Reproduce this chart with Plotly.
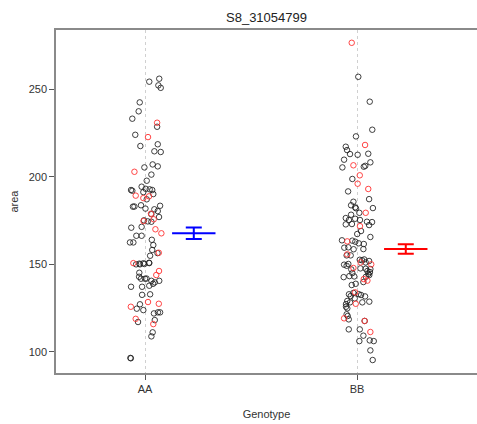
import plotly.graph_objects as go

categories = ["AA", "BB"]
title = "S8_31054799"

# AA genotype: area values, horizontal jitter, colour flag
aa_area = [254.2, 255.9, 252.1, 250.7, 242.4, 237.3, 233.1, 230.8, 228.5, 223.9,
           222.6, 218.5, 217.5, 214.5, 214.1, 205.3, 207.0, 205.9, 202.8, 201.2,
           197.7, 192.4, 192.0, 194.3, 193.1, 192.8, 192.4, 191.2, 190.1, 189.2,
           187.8, 188.8, 187.1, 182.9, 183.0, 183.7, 181.8, 181.4, 183.4, 180.4,
           178.9, 178.6, 177.0, 175.1, 174.7, 174.5, 174.3, 175.7, 171.4, 170.9,
           170.0, 167.7, 166.3, 166.3, 164.0, 162.5, 162.5, 161.0, 158.2, 156.6,
           156.4, 154.9, 150.7, 150.0, 150.4, 150.0, 150.6, 150.2, 150.9, 150.7,
           145.2, 146.2, 143.9, 142.9, 141.8, 141.8, 141.9, 140.6, 139.7, 140.6,
           137.2, 137.2, 137.8, 138.9, 132.6, 132.9, 128.5, 127.5, 127.2, 125.8,
           124.7, 123.9, 122.0, 122.6, 122.6, 118.9, 117.1, 118.2, 115.9, 111.2,
           108.9, 96.4, 96.6]
aa_jitter = [0.020, 0.067, 0.063, 0.074, -0.025, -0.030, -0.060, 0.057, 0.057, -0.046,
             0.014, 0.060, -0.022, 0.044, 0.074, -0.003, 0.036, 0.060, -0.050, 0.030,
             0.008, -0.066, -0.060, -0.016, 0.003, 0.022, 0.034, -0.008, 0.039, -0.044,
             -0.008, 0.019, 0.008, -0.057, -0.050, -0.019, 0.002, 0.044, 0.071, 0.060,
             0.028, 0.030, 0.066, -0.005, -0.007, 0.013, 0.030, 0.041, -0.016, -0.065,
             0.049, 0.077, -0.041, -0.016, 0.032, -0.071, -0.055, 0.039, 0.034, 0.065,
             0.059, 0.024, -0.055, -0.042, -0.027, -0.024, -0.008, -0.003, 0.019, 0.020,
             -0.027, 0.066, 0.053, -0.028, -0.019, 0.000, 0.007, 0.030, 0.046, 0.067,
             -0.066, -0.014, 0.020, 0.038, -0.014, 0.024, 0.014, 0.065, -0.024, -0.067,
             -0.039, -0.008, 0.042, 0.061, 0.071, -0.044, -0.033, 0.046, 0.039, 0.036,
             0.030, -0.067, -0.069]
aa_flag = list("kkkkkkkrkk" "rkkkkkkkrk" "kkkkkkkkkr" "rrkkkkkkkk"
               "rkkkrkkrkk" "rrkkkkkkkr" "kkrkkkkkkk" "krrkkkkkkk"
               "kkkkkkrrkr" "kkkkkrkkrk" "kkk")

# BB genotype
bb_area = [276.4, 257.0, 242.8, 226.8, 223.0, 217.1, 215.2, 218.1, 212.9, 212.5,
           213.1, 209.7, 208.2, 205.3, 206.5, 205.7, 206.2, 200.8, 198.7, 196.0,
           191.6, 193.0, 185.7, 187.2, 183.7, 182.5, 182.0, 182.1, 179.4, 179.4,
           178.3, 176.4, 175.3, 176.0, 175.3, 174.3, 174.1, 172.8, 173.0, 171.8,
           172.4, 169.0, 167.3, 165.6, 163.7, 163.1, 163.5, 162.9, 162.0, 161.6,
           159.5, 159.7, 158.6, 158.7, 155.1, 155.7, 155.1, 152.6, 152.3, 152.8,
           151.1, 151.1, 151.9, 150.0, 149.8, 149.2, 150.2, 147.9, 147.1, 147.7,
           147.5, 147.3, 146.2, 145.6, 144.5, 145.0, 142.7, 143.3, 143.1, 142.9,
           143.9, 141.6, 140.7, 139.9, 138.2, 138.9, 132.9, 133.7, 134.0, 131.9,
           133.0, 132.5, 131.7, 130.6, 129.1, 128.3, 127.5, 128.3, 128.7, 127.3,
           125.8, 124.9, 121.5, 119.2, 118.6, 120.5, 117.7, 117.7, 112.9, 112.9,
           111.4, 109.3, 106.2, 106.6, 106.2, 100.9, 95.4]
bb_jitter = [-0.025, 0.006, 0.060, 0.072, -0.005, -0.053, -0.047, 0.038, -0.033, 0.003,
             0.053, -0.061, 0.063, -0.069, -0.017, 0.032, 0.039, 0.013, -0.022, 0.003,
             -0.042, 0.053, -0.017, 0.057, -0.028, -0.009, -0.005, 0.075, 0.041, 0.011,
             -0.028, -0.053, -0.038, -0.009, 0.014, 0.047, 0.071, -0.053, -0.024, 0.014,
             0.057, 0.019, 0.001, 0.063, -0.071, -0.046, -0.022, -0.008, 0.008, 0.032,
             -0.060, -0.041, -0.016, 0.030, -0.049, -0.046, -0.030, 0.013, 0.024, 0.034,
             0.017, 0.041, 0.057, 0.067, -0.061, -0.049, -0.041, -0.017, -0.027, 0.016,
             0.041, 0.063, 0.049, 0.061, 0.053, -0.022, -0.063, -0.036, -0.013, 0.042,
             0.058, 0.032, 0.049, 0.030, -0.025, -0.006, -0.038, -0.017, -0.009, -0.030,
             0.008, 0.019, 0.038, -0.011, -0.046, -0.033, -0.006, 0.025, 0.058, -0.052,
             -0.052, -0.046, -0.049, -0.061, -0.039, -0.044, 0.036, 0.036, -0.039, 0.013,
             0.063, 0.030, 0.011, 0.060, 0.079, 0.063, 0.074]
bb_flag = list("rkkkkkkrkk" "kkkkrkkrkr" "krkkkkkkrk" "kkkkkkkkkr"
               "kkkkkrkkkk" "kkkkkrkkkk" "rkkrkkkrkk" "kkkkkkkkkk"
               "krrkkkkkrk" "kkkkkkrkkk" "kkkrkkrkkk" "rkkkkkk")

# group means and standard errors
group_mean = [167.7, 158.7]
group_se = [3.3, 2.7]
mean_colors = ["#0000FF", "#FF0000"]
mean_offset = 0.23

fig = go.Figure()

def add_points(pos, areas, jit, flags):
    for flag, col in (("k", "rgba(30,30,30,0.85)"), ("r", "rgba(255,50,50,0.9)")):
        xs = [pos + j for j, f in zip(jit, flags) if f == flag]
        ys = [a for a, f in zip(areas, flags) if f == flag]
        fig.add_trace(go.Scatter(x=xs, y=ys, mode="markers",
                                 marker=dict(symbol="circle-open", size=5.5,
                                             color=col, line=dict(width=1, color=col)),
                                 showlegend=False, hoverinfo="y"))

add_points(1, aa_area, aa_jitter, aa_flag)
add_points(2, bb_area, bb_jitter, bb_flag)

for i in range(2):
    fig.add_trace(go.Scatter(
        x=[i + 1 + mean_offset], y=[group_mean[i]], mode="markers",
        marker=dict(symbol="line-ew-open", size=31, color=mean_colors[i],
                    line=dict(width=2, color=mean_colors[i])),
        error_y=dict(type="data", array=[group_se[i]], visible=True,
                     color=mean_colors[i], thickness=2, width=8),
        showlegend=False))

font_family = "Liberation Sans, Arial, sans-serif"
tick_font = dict(family=font_family, size=11, color="#333333")
fig.update_layout(
    template="none",
    width=477, height=424,
    margin=dict(l=56, r=0, t=30, b=51),
    paper_bgcolor="white", plot_bgcolor="white",
    title=dict(text=title, x=0.5, xref="paper", xanchor="center",
               y=1 - 17 / 424, yanchor="middle",
               font=dict(family=font_family, size=13, color="#222")),
    font=dict(family=font_family, size=11, color="#333"),
    xaxis=dict(range=[0.58, 2.566], tickvals=[1, 2], ticktext=categories,
               tickfont=tick_font,
               showgrid=True, gridcolor="#d0d0d0", griddash="dot", gridwidth=1,
               zeroline=False, showline=True, linecolor="#8a8a8a", linewidth=1.5,
               mirror=True, ticks="outside", ticklen=5, tickcolor="#555",
               title=dict(text="Genotype", standoff=16,
                          font=dict(family=font_family, size=11, color="#333"))),
    yaxis=dict(range=[88.0, 283.7], tickvals=[100, 150, 200, 250],
               tickfont=tick_font,
               showgrid=False, zeroline=False, showline=True, linecolor="#8a8a8a",
               linewidth=1.5, ticks="outside", ticklen=5, tickcolor="#555",
               title=dict(text="area", standoff=8,
                          font=dict(family=font_family, size=11, color="#333"))),
)

fig.write_html("out.html")
